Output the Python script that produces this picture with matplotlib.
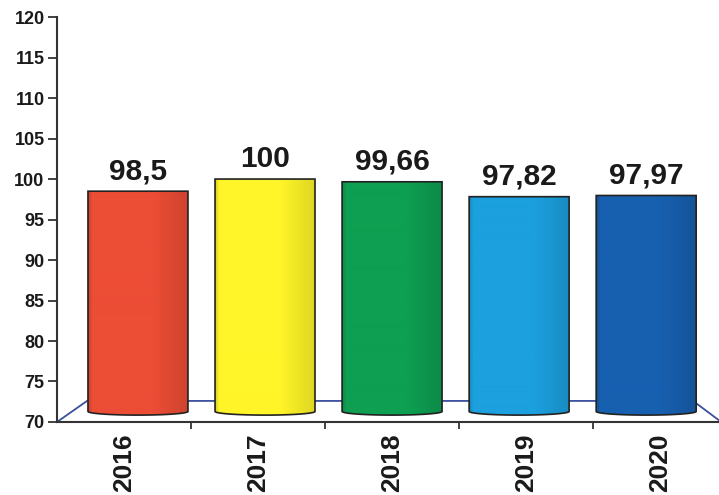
import matplotlib
matplotlib.use('Agg')
import matplotlib.pyplot as plt
import numpy as np
from matplotlib.path import Path
from matplotlib.patches import PathPatch
from matplotlib.colors import to_rgb

years = ['2016', '2017', '2018', '2019', '2020']
values = [98.5, 100, 99.66, 97.82, 97.97]
labels = ['98,5', '100', '99,66', '97,82', '97,97']
colors = ['#EC4D35', '#FFF528', '#0E9F52', '#1CA0DE', '#1760B0']

plt.rcParams['font.family'] = ['Liberation Sans', 'DejaVu Sans']
plt.rcParams['font.weight'] = 'bold'

fig = plt.figure(figsize=(7.19, 4.95), dpi=100)
ax = fig.add_axes([0.0793, 0.1475, 0.932, 0.818])

ymin, ymax = 70, 120
xmin, xmax = -0.5, len(years) - 0.5
ax.set_xlim(xmin, xmax)
ax.set_ylim(ymin, ymax)

# floor (3d look)
floor_y = 72.6
floor_col = '#3B4F9C'
ax.plot([xmin, -0.276, 4.246, 4.44], [ymin, floor_y, floor_y, ymin + 0.2],
        color=floor_col, lw=1.3, zorder=1, clip_on=False)

# horizontal shading across a cylinder
t = np.linspace(0, 1, 100)
shade = np.where(t < 0.04, 0.85 + 3.75 * t, 1.0)
shade = np.where(t > 0.65, 1.0 - 0.35 * (t - 0.65), shade)

bar_w = 0.746
bottom = 71.3
dip = 0.45
for i, (v, c, lab) in enumerate(zip(values, colors, labels)):
    xc = 2 + (i - 2) * 0.948
    x0, x1 = xc - bar_w / 2, xc + bar_w / 2
    tt = np.linspace(np.pi, 2 * np.pi, 30)
    arc_x = xc + bar_w / 2 * np.cos(tt)
    arc_y = bottom + dip * np.sin(tt)
    verts = [(x0, v)] + list(zip(arc_x, arc_y)) + [(x1, v), (x0, v)]
    codes = [Path.MOVETO] + [Path.LINETO] * (len(verts) - 2) + [Path.CLOSEPOLY]
    patch = PathPatch(Path(verts, codes), facecolor='none', edgecolor='#222222',
                      lw=1.2, zorder=4)
    ax.add_patch(patch)
    rgb = np.array(to_rgb(c))
    img = np.clip(shade[None, :, None] * rgb[None, None, :], 0, 1)
    im = ax.imshow(img, extent=[x0, x1, bottom - dip, v], aspect='auto',
                   zorder=3, interpolation='bilinear')
    im.set_clip_path(patch)
    ax.text(xc, v + 1.5, lab, ha='center', va='baseline', fontsize=21.5,
            fontweight='bold', color='#1a1a1a', zorder=5)

ax.set_xlim(xmin, xmax)
ax.set_ylim(ymin, ymax)

ax.set_yticks(np.arange(70, 121, 5))
ax.tick_params(axis='y', labelsize=13, length=6.5, width=1.3, color='#333333',
               pad=2.5, labelcolor='#1a1a1a')
ax.set_xticks(range(len(years)))
ax.set_xticklabels(years, rotation=90, fontsize=19, fontweight='bold', color='#1a1a1a')
ax.set_xticks(np.arange(0.5, len(years) - 0.5, 1), minor=True)
ax.tick_params(axis='x', which='major', length=0, pad=8)
ax.tick_params(axis='x', which='minor', length=5, width=1.3, color='#333333')
for lab in ax.get_yticklabels():
    lab.set_fontweight('bold')

for s in ['top', 'right']:
    ax.spines[s].set_visible(False)
for s in ['left', 'bottom']:
    ax.spines[s].set_color('#333333')
    ax.spines[s].set_linewidth(1.5)

fig.savefig('out.png', dpi=100)
